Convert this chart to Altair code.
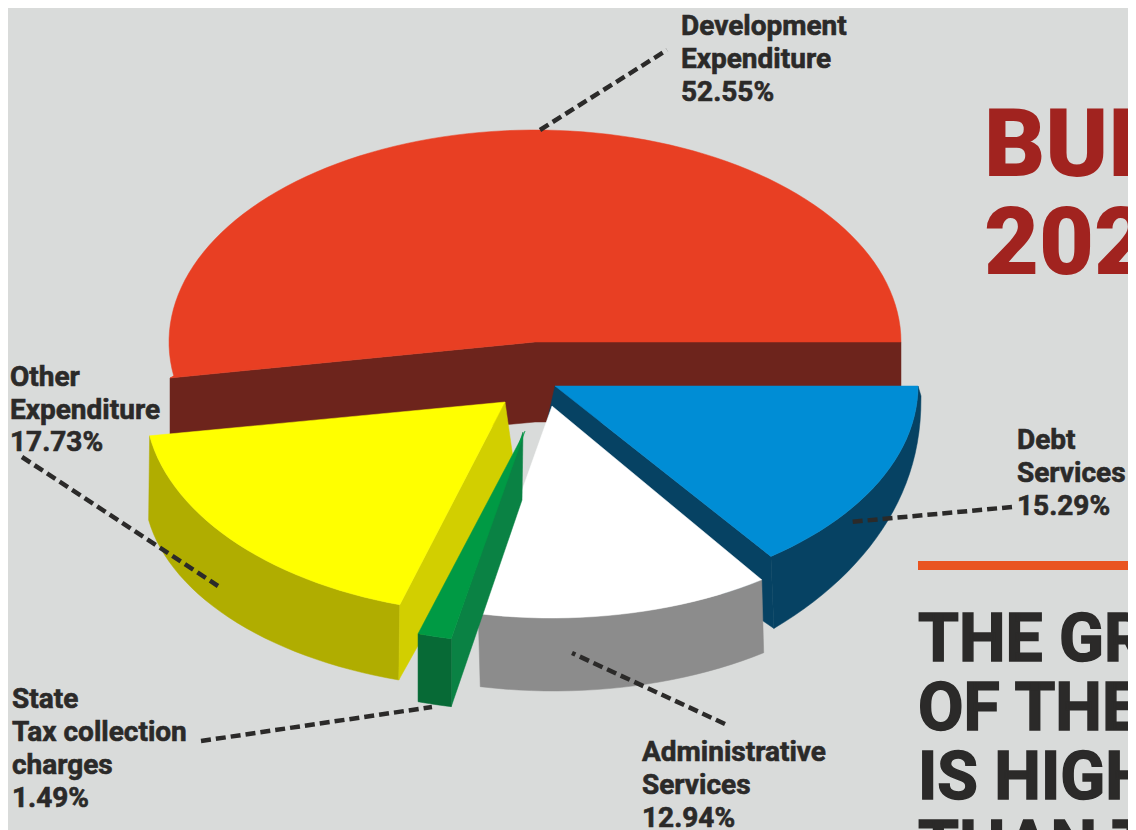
import math
import altair as alt
import pandas as pd

# Chart values
categories = ["Development Expenditure", "Other Expenditure", "State Tax collection charges",
              "Administrative Services", "Debt Services"]
shares = [52.55, 17.73, 1.49, 12.94, 15.29]

BG = "#d9dbda"
INK = "#2b2a29"
FONT = "Roboto"

# geometry of the exploded slices, one row per category
RY = 212
slice_geo = {
    "Development Expenditure": dict(cx=535, cy=342, rx=366, dy=80),
    "Other Expenditure": dict(cx=505, cy=402, rx=360, dy=86, ky=0.947, dx=-1),
    "State Tax collection charges": dict(cx=525, cy=431, rx=366, dy=68),
    "Administrative Services": dict(cx=552, cy=406, rx=366, dy=73, dx=2),
    "Debt Services": dict(cx=555, cy=386, rx=363, dy=72, dx=3, a0=306.5, dy_end=10),
}
slice_col = {
    "Development Expenditure": ("#e83f23", "#6d241c", "#6d241c"),
    "Other Expenditure": ("#ffff00", "#b0ad00", "#d2cf00"),
    "State Tax collection charges": ("#009a44", "#076a36", "#0a8244"),
    "Administrative Services": ("#ffffff", "#8c8c8c", "#8c8c8c"),
    "Debt Services": ("#008dd5", "#064263", "#064263"),
}

X = alt.X("x:Q", scale=alt.Scale(domain=[8, 1128], range=[0, 1120]), axis=None)
Y = alt.Y("y:Q", scale=alt.Scale(domain=[8, 830], range=[0, 822]), axis=None)

spans = {}
acc = 0.0
for c, s in zip(categories, shares):
    spans[c] = (slice_geo[c].get("a0", acc * 3.6), (acc + s) * 3.6)
    acc += s


def arc(c, bottom=False):
    g = slice_geo[c]
    a0, a1 = spans[c]
    n = max(6, int((a1 - a0) / 2))
    ky = g.get("ky", 1) if bottom else 1
    out = []
    for i in range(n + 1):
        f = i / n
        t = math.radians(a0 + (a1 - a0) * f)
        dy = 0
        dx = 0
        if bottom:
            dx = g.get("dx", 0)
            dy = g["dy"]
            if "dy_end" in g:
                dy = g["dy_end"] + (g["dy"] - g["dy_end"]) * (1 - f) ** 0.7
        out.append((g["cx"] + dx + g["rx"] * math.cos(t), g["cy"] + dy - RY * ky * math.sin(t)))
    return out


def poly(pts, color):
    pts = list(pts) + [pts[0]]
    df = pd.DataFrame({"x": [p[0] for p in pts], "y": [p[1] for p in pts], "i": range(len(pts))})
    return alt.Chart(df).mark_line(filled=True, fill=color, stroke=color, strokeWidth=0.5).encode(
        x=X, y=Y, order="i:Q")


def top(c):
    g = slice_geo[c]
    return poly([(g["cx"], g["cy"])] + arc(c), slice_col[c][0])


def outer(c):
    return poly(arc(c) + arc(c, True)[::-1], slice_col[c][1])


layers = []
# Development: back slice and its straight front wall
d = "Development Expenditure"
a = arc(d)
layers.append(poly([(170, 378), (535, 342), a[0], (901, 422), (535, 422), (170, 456)], slice_col[d][1]))
layers.append(poly([(535, 342)] + a + [(170, 378)], slice_col[d][0]))

# Debt services
d = "Debt Services"
a = arc(d)
layers.append(outer(d))
layers.append(poly([(555, 386), a[0], arc(d, True)[0], (537, 467)], slice_col[d][2]))
layers.append(top(d))

# Administrative services
d = "Administrative Services"
layers.append(outer(d))
layers.append(top(d))

# Other expenditure
d = "Other Expenditure"
a = arc(d)
b = arc(d, True)
layers.append(outer(d))
layers.append(poly([(505, 402), a[-1], b[-1], (515, 472)], slice_col[d][2]))
layers.append(top(d))

# State tax collection
d = "State Tax collection charges"
a = arc(d)
b = arc(d, True)
layers.append(poly([(523, 432), a[-1], b[-1], (522, 500)], slice_col[d][2]))
layers.append(outer(d))
layers.append(top(d))

# Leader lines
leaders = [
    ((540, 130), (667, 50)),
    ((1012, 507), (850, 522)),
    ((725, 724), (572, 653)),
    ((22, 457), (218, 586)),
    ((201, 741), (432, 707)),
]
for p, q in leaders:
    df = pd.DataFrame({"x": [p[0], q[0]], "y": [p[1], q[1]], "i": [0, 1]})
    layers.append(alt.Chart(df).mark_line(color=INK, strokeWidth=4.5, strokeDash=[10, 5]).encode(
        x=X, y=Y, order="i:Q"))

# Labels
labels = [
    (681, 35, 33, ["Development", "Expenditure", "52.55%"]),
    (1017, 449, 33, ["Debt", "Services", "15.29%"]),
    (642, 761, 33, ["Administrative", "Services", "12.94%"]),
    (12, 708, 33, ["State", "Tax collection", "charges", "1.49%"]),
    (10, 386, 32.5, ["Other", "Expenditure", "17.73%"]),
]
rows = []
for x0, y0, step, lines in labels:
    for k, t in enumerate(lines):
        rows.append({"x": x0, "y": y0 + k * step, "t": t})
layers.append(alt.Chart(pd.DataFrame(rows)).mark_text(
    font=FONT, fontWeight="bold", fontSize=28, align="left", baseline="alphabetic",
    color=INK, stroke=INK, strokeWidth=0.6).encode(x=X, y=Y, text="t:N"))

# Side panel
rule = pd.DataFrame({"x": [918], "x2": [1136], "y": [561], "y2": [570]})
layers.append(alt.Chart(rule).mark_rect(color="#e95420").encode(x=X, x2="x2:Q", y=Y, y2="y2:Q"))

heads = pd.DataFrame({"x": [918, 918, 918, 918], "y": [661, 730, 799, 868],
                      "t": ["THE GR", "OF THE", "IS HIGH", "THAN T"]})
layers.append(alt.Chart(heads).mark_text(
    font=FONT, fontWeight="bold", fontSize=66, align="left", baseline="alphabetic",
    color=INK, stroke=INK, strokeWidth=1.5).encode(x=X, y=Y, text="t:N"))

stamp = pd.DataFrame({"x": [984, 984], "y": [176, 274], "t": ["BUD", "202"]})
layers.append(alt.Chart(stamp).mark_text(
    font=FONT, fontWeight=900, fontSize=95, align="left", baseline="alphabetic",
    color="#a1231f").encode(x=X, y=Y, text="t:N"))

chart = alt.layer(*layers).properties(
    width=1120, height=822, background=BG, padding=0,
    autosize=alt.AutoSizeParams(type="none"),
).configure_view(stroke=None)

chart.save("out.html", embed_options={"renderer": "svg", "actions": False})
